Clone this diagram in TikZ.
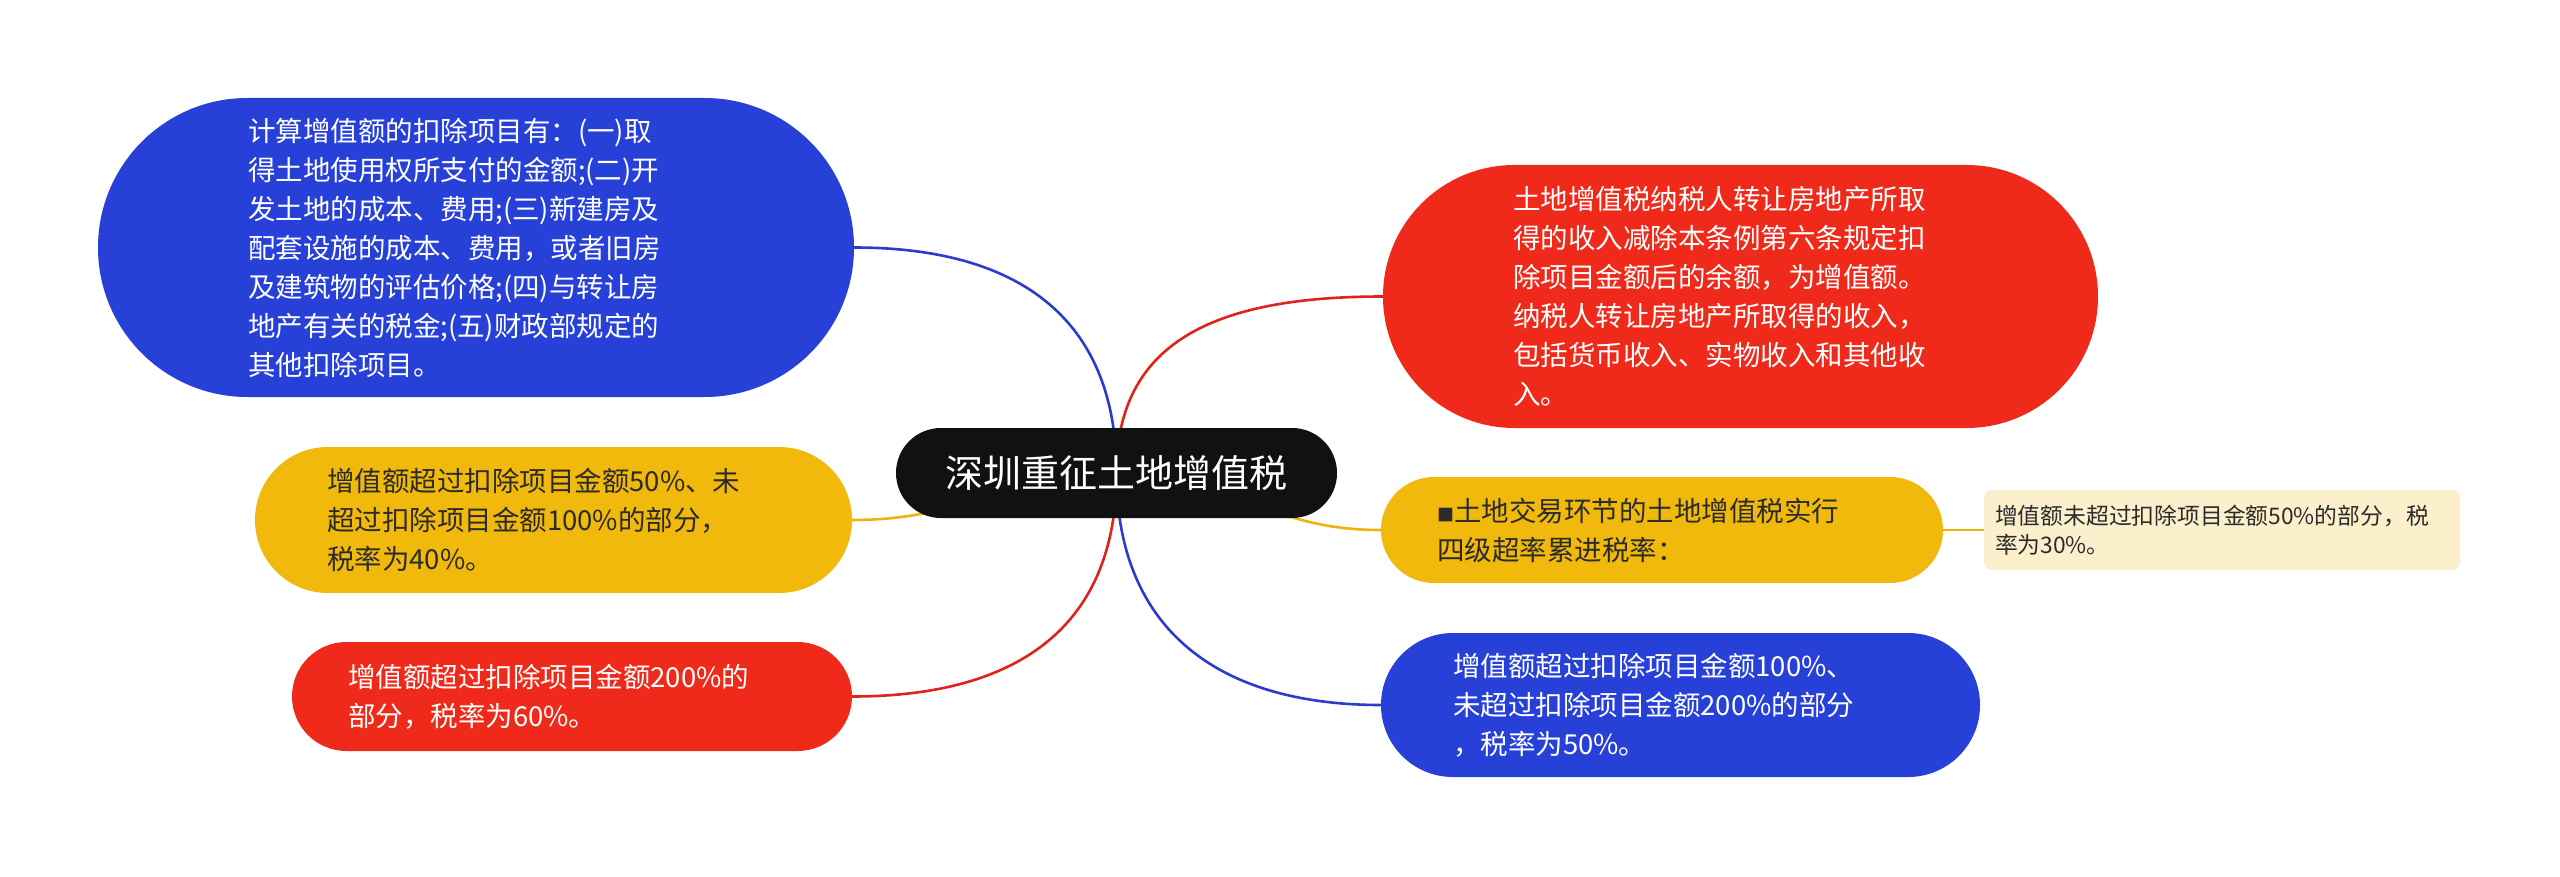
\documentclass[tikz,border=0pt]{standalone}
\usepackage{fontspec}
\setmainfont{Noto Sans CJK SC}
\definecolor{cblue}{HTML}{2740D8}
\definecolor{cred}{HTML}{EF2A1A}
\definecolor{cyellow}{HTML}{F0B90B}
\definecolor{ccream}{HTML}{FCEFCB}
\definecolor{cblack}{HTML}{111111}
\definecolor{ldark}{HTML}{2B2B2B}
\definecolor{lblue}{HTML}{2B3BD0}
\definecolor{lred}{HTML}{E0231A}
\definecolor{lyellow}{HTML}{EDB40C}
\pgfdeclarelayer{bg}
\pgfsetlayers{bg,main}
\begin{document}
\begin{tikzpicture}[x=1pt,y=-1pt,
  box/.style={rectangle, inner sep=0pt, align=left, font=\fontsize{27.5}{39}\selectfont},
  conn/.style={line width=2.6pt}
]
\useasboundingbox (0,0) rectangle (2560,877);
\begin{pgfonlayer}{bg}
\fill[white] (0,0) rectangle (2560,877);
\end{pgfonlayer}

% center
\node[rectangle, inner sep=0pt, fill=cblack, text=white, rounded corners=44.9pt,
  minimum width=441pt, minimum height=90pt, font=\fontsize{38}{44}\selectfont]
  (c) at (1116.5,473) {深圳重征土地增值税};

\node[box, fill=cblue, text=white, rounded corners=149.4pt, minimum width=756pt, minimum height=299pt, text width=456pt]
  (n1) at (476,247.5) {计算增值额的扣除项目有：(一)取\\得土地使用权所支付的金额;(二)开\\发土地的成本、费用;(三)新建房及\\配套设施的成本、费用，或者旧房\\及建筑物的评估价格;(四)与转让房\\地产有关的税金;(五)财政部规定的\\其他扣除项目。};
\node[box, fill=cred, text=white, rounded corners=131.4pt, minimum width=715pt, minimum height=263pt, text width=455pt]
  (n2) at (1740.5,296.5) {土地增值税纳税人转让房地产所取\\得的收入减除本条例第六条规定扣\\除项目金额后的余额，为增值额。\\纳税人转让房地产所取得的收入，\\包括货币收入、实物收入和其他收\\入。};
\node[box, fill=cyellow, text=ldark, rounded corners=72.9pt, minimum width=597pt, minimum height=146pt, text width=453pt]
  (n3) at (553.5,520) {增值额超过扣除项目金额50\%、未\\超过扣除项目金额100\%的部分，\\税率为40\%。};
\node[box, fill=cred, text=white, rounded corners=54.4pt, minimum width=560pt, minimum height=109pt, text width=448pt]
  (n4) at (572,696.5) {增值额超过扣除项目金额200\%的\\部分，税率为60\%。};
\node[box, fill=cyellow, text=ldark, rounded corners=52.9pt, minimum width=562pt, minimum height=106pt, text width=450pt]
  (n5) at (1662,530) {{\fontsize{17}{17}\selectfont ■}土地交易环节的土地增值税实行\\四级超率累进税率：};
\node[box, fill=ccream, text=ldark, rounded corners=8pt, minimum width=476pt, minimum height=80pt, text width=454pt,
  font=\fontsize{22.8}{29}\selectfont]
  (n6) at (2222,530) {增值额未超过扣除项目金额50\%的部分，税\\率为30\%。};
\node[box, fill=cblue, text=white, rounded corners=71.9pt, minimum width=599pt, minimum height=144pt, text width=455pt]
  (n7) at (1680.5,705) {增值额超过扣除项目金额100\%、\\未超过扣除项目金额200\%的部分\\，税率为50\%。};

\begin{pgfonlayer}{bg}
\draw[conn, lblue] (c.center) .. controls +(0,-150) and +(170,0) .. (n1.east);
\draw[conn, lred] (c.center) .. controls +(0,-130) and +(-170,0) .. (n2.west);
\draw[conn, lyellow] (c.center) .. controls +(-120,0) and +(120,0) .. (n3.east);
\draw[conn, lyellow] (c.center) .. controls +(120,0) and +(-120,0) .. (n5.west);
\draw[conn, lred] (c.center) .. controls +(0,150) and +(170,0) .. (n4.east);
\draw[conn, lblue] (c.center) .. controls +(0,150) and +(-170,0) .. (n7.west);
\draw[conn, lyellow] (n5.east) -- (n6.west);
\end{pgfonlayer}
\end{tikzpicture}
\end{document}
